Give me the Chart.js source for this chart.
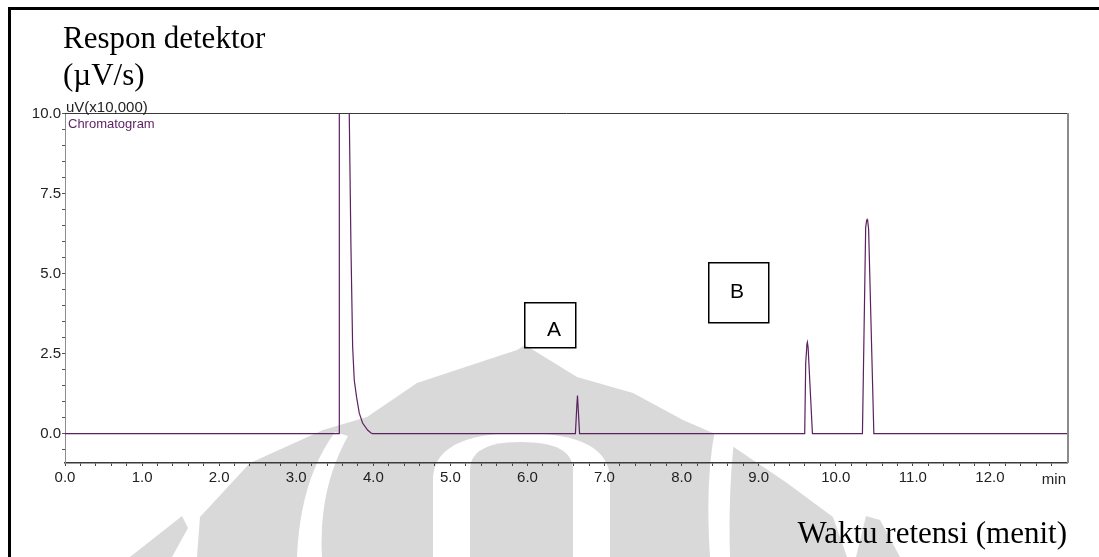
<!DOCTYPE html>
<html><head><meta charset="utf-8">
<script src="https://cdn.jsdelivr.net/npm/chart.js@4/dist/chart.umd.min.js"></script>
<style>
html,body{margin:0;padding:0;background:#fff;}
#wrap{position:relative;width:1099px;height:557px;overflow:hidden;background:#fff;}
#wm{position:absolute;left:0;top:0;}
#c{position:absolute;left:0;top:0;}
</style></head>
<body>
<div id="wrap">
<svg id="wm" width="1099" height="557" viewBox="0 0 1099 557">
  <g fill="#d9d9d9">
    <path d="M197,557 L200,517 L250,463 L323,430 L367,417 L417,383 L517,350 L525,345 L577,377 L633,393 L683,420 L713,433 L787,483 L833,517 L847,557 Z"/>
    <path d="M130,557 L182,516 L188,528 L172,557 Z"/>
    <path d="M856,557 L866,516 L880,520 L900,557 Z"/>
  </g>
  <g fill="#ffffff">
    <path d="M433,557 L433,480 Q433,433 521,433 Q610,433 610,480 L610,557 Z"/>
    <path d="M297,557 Q300,480 335,432 L348,436 Q318,490 322,557 Z"/>
    <path d="M710,557 Q705,480 715,430 L735,432 Q728,490 730,557 Z"/>
  </g>
  <path fill="#d9d9d9" d="M470,557 L470,470 Q470,442 521,442 Q573,442 573,470 L573,557 Z"/>
</svg>
<canvas id="c" width="1099" height="557"></canvas>
</div>
<script>
// ---- data ----
const timeMin = [0.000, 3.556, 3.559, 3.685, 3.688, 3.710, 3.732, 3.753, 3.783, 3.818, 3.861, 3.926, 3.970, 3.990,
                 6.622, 6.640, 6.649, 6.657, 6.676,
                 9.597, 9.610, 9.626, 9.632, 9.641, 9.697,
                 10.346, 10.388, 10.400, 10.407, 10.414, 10.426, 10.494, 13.000];
const signal  = [0, 0, 15, 15, 10.0, 5.84, 2.71, 1.67, 1.14, 0.64, 0.33, 0.11, 0.02, 0,
                 0, 0.85, 1.19, 0.85, 0,
                 0, 2.21, 2.80, 2.86, 2.70, 0,
                 0, 6.45, 6.66, 6.70, 6.66, 6.40, 0, 0];
const xMajorTicks = [0,1,2,3,4,5,6,7,8,9,10,11,12];
const xMajorLabels = ['0.0','1.0','2.0','3.0','4.0','5.0','6.0','7.0','8.0','9.0','10.0','11.0','12.0'];
const yMajorTicks = [0, 2.5, 5, 7.5, 10];
const yMajorLabels = ['0.0','2.5','5.0','7.5','10.0'];
const seriesName = 'Chromatogram';
const unitLabel = 'uV(x10,000)';
const xUnit = 'min';
const yTitle = ['Respon detektor', '(\u00b5V/s)'];
const xTitle = 'Waktu retensi (menit)';
const peakLabels = ['A', 'B'];

const xTickVals = [];
for (let i = 0; i <= 64; i++) xTickVals.push(Math.round(i * 0.2 * 10) / 10);
const yTickVals = [];
for (let i = -1; i <= 20; i++) yTickVals.push(i * 0.5);

// pick a narrow sans if it is installed
function hasFont(name) {
  const c = document.createElement('canvas').getContext('2d');
  c.font = '40px monospace'; const w0 = c.measureText('0123456789.,()uVx').width;
  c.font = '40px "' + name + '", monospace'; const w1 = c.measureText('0123456789.,()uVx').width;
  return Math.abs(w0 - w1) > 0.5;
}
const narrow = hasFont('Liberation Sans Narrow');
const tickFam = narrow ? '"Liberation Sans Narrow"' : '"Liberation Sans", Arial, sans-serif';
const tickSize = narrow ? 17 : 15;
const tickFont = {family: tickFam, size: tickSize};

const decor = {
  id: 'decor',
  afterDraw(chart) {
    const {ctx, chartArea: a} = chart;
    ctx.save();
    // plot frame top & right
    ctx.strokeStyle = '#3a3a3a'; ctx.lineWidth = 1;
    ctx.beginPath(); ctx.moveTo(a.left, a.top + 0.5); ctx.lineTo(a.right + 1, a.top + 0.5); ctx.stroke();
    ctx.strokeStyle = '#8c8c8c'; ctx.lineWidth = 2;
    ctx.beginPath(); ctx.moveTo(a.right + 1, a.top); ctx.lineTo(a.right + 1, a.bottom); ctx.stroke();
    // outer page frame
    ctx.fillStyle = '#000';
    ctx.fillRect(8, 7, 1091, 3);
    ctx.fillRect(8, 7, 3, 550);
    // titles
    ctx.font = '31px "Liberation Serif", "Times New Roman", serif';
    ctx.textBaseline = 'alphabetic'; ctx.textAlign = 'left';
    ctx.fillText(yTitle[0], 63, 48);
    ctx.fillText(yTitle[1], 63, 85);
    ctx.textAlign = 'right';
    ctx.fillText(xTitle, 1067, 543);
    // unit labels
    ctx.font = tickSize + 'px ' + tickFam;
    ctx.fillStyle = '#222';
    ctx.textAlign = 'left';
    ctx.fillText(unitLabel, 66, 112);
    ctx.textAlign = 'right';
    ctx.fillText(xUnit, 1066, 484);
    ctx.font = (narrow ? 15 : 13) + 'px ' + tickFam;
    ctx.fillStyle = '#5c1f63'; ctx.textAlign = 'left';
    ctx.fillText(seriesName, 68, 128);
    // peak label boxes
    ctx.strokeStyle = '#000'; ctx.lineWidth = 1.5;
    ctx.strokeRect(524.75, 302.75, 51, 45);
    ctx.strokeRect(708.75, 262.75, 60, 60);
    ctx.fillStyle = '#000';
    ctx.font = '21px "Liberation Sans", Arial, sans-serif';
    ctx.textAlign = 'center'; ctx.textBaseline = 'middle';
    ctx.fillText(peakLabels[0], 554, 330);
    ctx.fillText(peakLabels[1], 737, 292);
    ctx.restore();
  }
};

new Chart(document.getElementById('c'), {
  type: 'line',
  data: {
    datasets: [{
      label: seriesName,
      data: timeMin.map((t, i) => ({x: t, y: signal[i]})),
      borderColor: '#5b2160',
      borderWidth: 1.2,
      pointRadius: 0,
      tension: 0,
      fill: false
    }]
  },
  options: {
    responsive: false,
    animation: false,
    devicePixelRatio: 1,
    layout: {padding: {left: 0, top: 113, right: 32, bottom: 0}},
    plugins: {legend: {display: false}, tooltip: {enabled: false}},
    scales: {
      x: {
        type: 'linear', min: 0, max: 13,
        afterBuildTicks: s => { s.ticks = xTickVals.map(v => ({value: v})); },
        afterFit: s => { s.height = 94; },
        ticks: {
          autoSkip: false, maxRotation: 0, font: tickFont, color: '#222', padding: 3,
          callback: v => { const i = xMajorTicks.indexOf(v); return i >= 0 ? xMajorLabels[i] : ''; }
        },
        grid: {drawOnChartArea: false, drawTicks: true, tickLength: 3, tickColor: '#444', tickWidth: 1},
        border: {display: true, color: '#3a3a3a', width: 1.5}
      },
      y: {
        type: 'linear', min: -0.92, max: 10.03,
        afterBuildTicks: s => { s.ticks = yTickVals.map(v => ({value: v})); },
        afterFit: s => { s.width = 65; },
        ticks: {
          autoSkip: false, font: tickFont, color: '#222', padding: 1,
          callback: v => { const i = yMajorTicks.indexOf(v); return i >= 0 ? yMajorLabels[i] : ''; }
        },
        grid: {drawOnChartArea: false, drawTicks: true, tickLength: 3, tickColor: '#555', tickWidth: 1},
        border: {display: true, color: '#8c8c8c', width: 1}
      }
    }
  },
  plugins: [decor]
});
</script>
</body></html>
